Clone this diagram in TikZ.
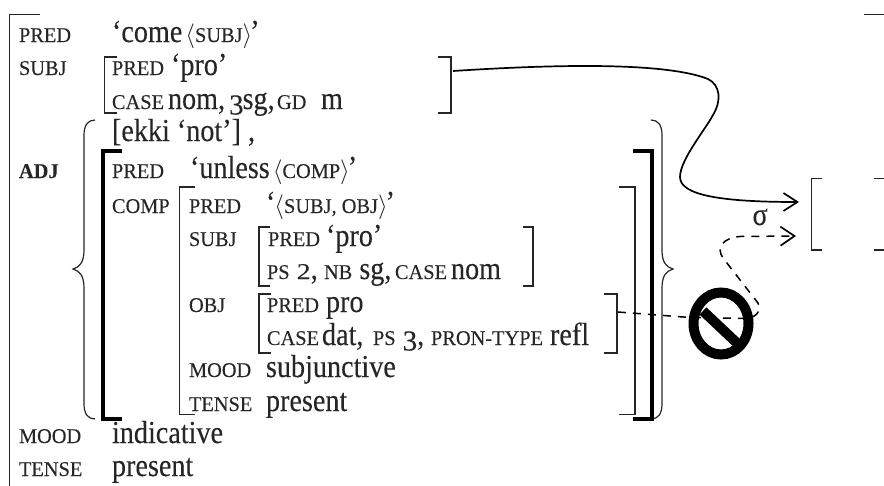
\documentclass[tikz,border=0pt]{standalone}
\usepackage{fontspec}
\setmainfont[FakeStretch=0.88,FakeBold=0.15]{Liberation Serif}
\newfontfamily\smcfont[FakeStretch=0.97,FakeBold=0.1]{Liberation Serif}
\newfontfamily\digfont[FakeStretch=1.25,FakeBold=0.1]{Liberation Serif}
\newfontfamily\digbfont[FakeBold=0.1]{Liberation Serif}
\usetikzlibrary{arrows.meta}
\newcommand\smc[1]{{\smcfont\fontsize{21}{24}\selectfont #1}}
\newcommand\onumA[1]{{\digfont\fontsize{22.5}{24}\selectfont #1}}
\newcommand\onumB[1]{\smash{\raisebox{-5.5pt}{\digbfont\fontsize{29}{24}\selectfont #1}}}
\newcommand\lang{{\fontsize{25}{28}\selectfont$\langle$}}
\newcommand\rang{{\fontsize{25}{28}\selectfont$\rangle$}}
\definecolor{ink}{HTML}{262626}
\tikzset{
  txt/.style={inner sep=0pt,outer sep=0pt,anchor=base west,text=ink,font=\fontsize{32}{36}\selectfont},
  brk/.style={draw=black!85,line width=1.2pt,line cap=butt,line join=miter},
  thickbrk/.style={draw=black,line width=4pt,line join=miter},
  nosignline/.style={draw=black,line width=10pt},
  curvelink/.style={draw=black,line width=1.7pt,-{Straight Barb[length=14pt,width=18pt,line width=1.7pt]}},
  dashlink/.style={draw=black,line width=1.5pt,dash pattern=on 8pt off 7pt,-{Straight Barb[length=14pt,width=19pt,line width=1.7pt]}}
}
\begin{document}
\begin{tikzpicture}[x=1pt,y=-1pt]
\useasboundingbox (0,0) rectangle (884,485);
\clip (0,0) rectangle (884,485);
% outer f-structure text
\node[txt] (l1a) at (19,42) {\smc{PRED}};
\node[txt] (l1b) at (112,42) {‘come\hspace{3pt}\lang\smc{SUBJ}\rang\kern-2pt’};
\node[txt] (l2a) at (19,75) {\smc{SUBJ}};
\node[txt] (l2b) at (112,75) {\smc{PRED}};
\node[txt] (l2c) at (171,75) {‘pro’};
\node[txt] (l3a) at (112,109) {\smc{CASE}};
\node[txt] (l3b) at (168,109) {nom,\hspace{4pt}\onumB{3}\kern-1pt sg,};
\node[txt] (l3c) at (277,109) {\smc{GD}};
\node[txt] (l3d) at (321,109) {m};
\node[txt] (l4) at (112,141) {[ekki ‘not’] ,};
\node[txt] (l5a) at (19,178) {\smc{\bfseries ADJ}};
\node[txt] (l5b) at (112,178) {\smc{PRED}};
\node[txt] (l5c) at (190,178) {‘unless\hspace{3pt}\lang\smc{COMP}\rang\kern-2pt’};
\node[txt] (l6a) at (112,213) {\smc{COMP}};
\node[txt] (l6b) at (189,213) {\smc{PRED}};
\node[txt] (l6c) at (266,213) {‘\kern-1pt\lang\smc{SUBJ, OBJ}\rang\kern-2pt’};
\node[txt] (l7a) at (189,246) {\smc{SUBJ}};
\node[txt] (l7b) at (268,246) {\smc{PRED}};
\node[txt] (l7c) at (326,246) {‘pro’};
\node[txt] (l8a) at (267,279) {\smc{PS} \onumA{2},};
\node[txt] (l8b) at (324,279) {\smc{NB} sg,};
\node[txt] (l8c) at (395,279) {\smc{CASE}};
\node[txt] (l8d) at (451,279) {nom};
\node[txt] (l9a) at (189,312) {\smc{OBJ}};
\node[txt] (l9b) at (267,312) {\smc{PRED}};
\node[txt] (l9c) at (326,312) {pro};
\node[txt] (l10a) at (267,345) {\smc{CASE}};
\node[txt] (l10b) at (322,345) {dat,};
\node[txt] (l10c) at (373,345) {\smc{PS} \onumB{3},};
\node[txt] (l10d) at (431,345) {\smc{PRON-TYPE}};
\node[txt] (l10e) at (550,345) {refl};
\node[txt] (l11a) at (189,377) {\smc{MOOD}};
\node[txt] (l11b) at (266,377) {subjunctive};
\node[txt] (l12a) at (189,411) {\smc{TENSE}};
\node[txt] (l12b) at (266,411) {present};
\node[txt] (l13a) at (19,443) {\smc{MOOD}};
\node[txt] (l13b) at (112,443) {indicative};
\node[txt] (l14a) at (19,476) {\smc{TENSE}};
\node[txt] (l14b) at (112,476) {present};
\node[txt] (sigma) at (752.5,225) {σ};
% brackets
\draw[brk] (40,14.5) -- (9.5,14.5) -- (9.5,490);
\draw[brk] (864,14.5) -- (890,14.5);
\draw[brk] (117,57) -- (104.5,57) -- (104.5,113) -- (117,113);
\draw[brk] (438,57) -- (451,57) -- (451,113) -- (438,113);
\draw[brk] (95,120) .. controls (88,120) and (84,125) .. (84,135) -- (84,250) .. controls (84,262) and (80,267) .. (73,269) .. controls (80,271) and (84,276) .. (84,288) -- (84,404) .. controls (84,414) and (88,419) .. (95,419);
\draw[brk] (651,120) .. controls (658,120) and (662,125) .. (662,135) -- (662,250) .. controls (662,262) and (666,267) .. (673,269) .. controls (666,271) and (662,276) .. (662,288) -- (662,404) .. controls (662,414) and (658,419) .. (651,419);
\draw[thickbrk] (122,151) -- (103,151) -- (103,419) -- (122,419);
\draw[thickbrk] (633,151) -- (651.5,151) -- (651.5,419) -- (633,419);
\draw[brk] (195,187) -- (179.5,187) -- (179.5,414.5) -- (195,414.5);
\draw[brk] (619,187) -- (635,187) -- (635,414.5) -- (619,414.5);
\draw[brk] (270,227) -- (259,227) -- (259,286) -- (270,286);
\draw[brk] (523,227) -- (533,227) -- (533,286) -- (523,286);
\draw[brk] (271,294) -- (259,294) -- (259,353) -- (271,353);
\draw[brk] (604,294) -- (617,294) -- (617,353) -- (604,353);
\draw[brk] (822,178.5) -- (811.5,178.5) -- (811.5,250) -- (822,250);
\draw[brk] (874,178.5) -- (890,178.5);
\draw[brk] (874,250) -- (890,250);
% prohibition sign
\draw[nosignline] (721,323.5) ellipse [x radius=27.5,y radius=31];
\draw[nosignline] (703,311) -- (738,344);
% connector anchors
\coordinate (subjEdge) at (453,71);
\coordinate (sigmaTop) at (799,202);
\coordinate (objEdge) at (618,312);
\coordinate (sigmaLow) at (796,236);
\draw[curvelink] (subjEdge) .. controls (530,66) and (660,60) .. (708,79) .. controls (720,85) and (722,100) .. (713,115) .. controls (705,130) and (680,160) .. (680,177) .. controls (680,195) and (720,202) .. (sigmaTop);
\draw[dashlink] (objEdge) -- (690,317.5) -- (745,318.5) .. controls (755,318) and (762,312) .. (758,303) -- (723,258) .. controls (716,248) and (722,238) .. (740,236.5) -- (sigmaLow);
\end{tikzpicture}
\end{document}
